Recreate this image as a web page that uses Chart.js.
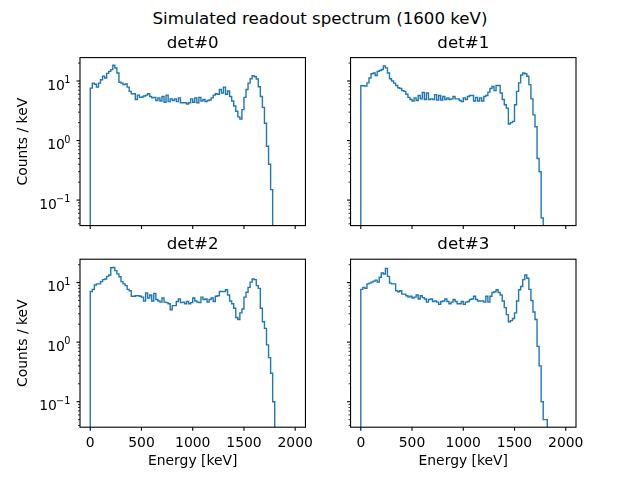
<!DOCTYPE html>
<html>
<head>
<meta charset="utf-8">
<script src="https://cdn.jsdelivr.net/npm/chart.js@4.4.1/dist/chart.umd.min.js"></script>
<style>
  body { margin: 0; background: #fff; }
  #fig { position: relative; width: 640px; height: 480px; }
  #fig canvas { position: absolute; left: 0; top: 0; }
  #suptitle {
    position: absolute; left: 0; top: 8.7px; width: 640px;
    text-align: center; font: 16.67px/20px "DejaVu Sans"; color: #000;
  }
</style>
</head>
<body>
<div id="fig">
  <div id="suptitle">Simulated readout spectrum (1600 keV)</div>
  <canvas id="det0" width="640" height="480"></canvas>
  <canvas id="det1" width="640" height="480"></canvas>
  <canvas id="det2" width="640" height="480"></canvas>
  <canvas id="det3" width="640" height="480"></canvas>
</div>
<script>
// counts / keV per 20 keV bin, starting at 0 keV
const binWidth = 20;

const det0Counts = [
  7.6, 9.2, 8.8, 7.9, 9.2, 10.5, 12.0, 11.2, 13.4, 14.5, 15.5, 18.4, 16.5, 13.6, 9.5, 9.2, 8.7, 8.9, 7.9, 6.7,
  6.1, 6.1, 4.9, 5.8, 5.3, 5.4, 5.6, 5.8, 6.1, 5.5, 5.2, 5.3, 4.7, 5.2, 4.6, 5.5, 4.4, 5.8, 4.5, 5.0,
  4.7, 5.0, 4.5, 5.2, 4.3, 4.3, 4.3, 4.1, 4.3, 5.0, 4.4, 5.2, 4.3, 5.3, 4.6, 4.9, 4.5, 4.7, 4.8, 5.2,
  5.8, 6.1, 6.0, 7.2, 6.3, 7.9, 6.0, 6.8, 5.5, 4.6, 3.8, 3.1, 2.5, 2.3, 3.3, 5.3, 7.2, 9.2, 10.9, 12.3,
  11.8, 10.8, 8.0, 5.5, 3.6, 1.95, 0.8, 0.4, 0.15
];
const det1Counts = [
  8.3, 8.3, 8.2, 9.3, 11.2, 13.2, 13.6, 12.4, 14.5, 15.0, 15.6, 17.9, 16.6, 13.6, 10.9, 10.0, 9.2, 8.4, 7.7, 7.5,
  6.9, 6.7, 6.0, 5.3, 4.9, 4.6, 5.2, 4.7, 5.7, 5.0, 6.4, 4.9, 6.3, 4.9, 5.0, 4.9, 5.9, 4.8, 5.7, 4.8,
  5.5, 4.9, 5.2, 4.9, 5.0, 5.5, 5.0, 5.0, 4.7, 4.5, 5.2, 4.9, 5.5, 5.7, 5.7, 4.6, 5.3, 4.6, 5.2, 4.6,
  5.5, 5.7, 6.5, 7.5, 8.1, 6.9, 8.4, 8.4, 6.3, 4.9, 4.0, 3.5, 1.9, 2.0, 2.1, 4.0, 6.7, 9.3, 12.6, 13.6,
  13.2, 12.0, 8.7, 5.0, 2.7, 1.7, 0.5, 0.3, 0.05
];
const det2Counts = [
  7.1, 7.7, 9.1, 9.5, 9.5, 10.4, 11.2, 11.5, 12.7, 13.4, 17.8, 18.0, 15.9, 14.0, 12.5, 10.4, 9.5, 8.9, 7.7, 7.3,
  5.9, 5.9, 6.0, 6.0, 5.9, 5.7, 4.9, 6.7, 5.5, 6.2, 4.9, 6.6, 5.2, 4.9, 4.7, 5.5, 4.7, 4.6, 4.4, 3.5,
  4.1, 4.1, 4.8, 5.3, 4.6, 4.7, 4.4, 4.8, 4.4, 4.6, 5.5, 4.9, 4.7, 4.6, 5.7, 5.2, 5.3, 4.7, 5.2, 5.5,
  4.8, 5.9, 6.0, 7.1, 7.1, 7.1, 7.6, 6.2, 4.9, 4.4, 3.7, 2.6, 2.4, 3.1, 3.6, 5.7, 6.9, 8.3, 10.2, 11.5,
  11.2, 8.9, 8.0, 3.7, 2.2, 1.7, 0.9, 0.55, 0.3, 0.1
];
const det3Counts = [
  7.7, 8.3, 8.0, 9.5, 9.8, 10.2, 10.6, 11.0, 10.2, 12.3, 14.5, 13.9, 17.3, 12.7, 9.8, 9.5, 9.5, 7.3, 7.0, 7.3,
  6.4, 6.4, 6.0, 5.7, 5.9, 5.5, 5.7, 6.2, 5.3, 6.0, 5.6, 5.3, 4.7, 5.2, 5.3, 4.8, 4.9, 4.7, 4.3, 4.8,
  4.9, 5.3, 4.8, 4.4, 4.7, 5.2, 4.8, 4.4, 4.4, 4.8, 4.3, 4.7, 4.8, 5.2, 5.3, 5.9, 5.2, 4.9, 4.9, 4.9,
  4.7, 5.9, 4.7, 5.9, 6.8, 7.0, 7.6, 6.8, 6.2, 4.9, 3.8, 2.9, 2.2, 2.3, 2.5, 3.1, 4.9, 7.6, 8.6, 11.2,
  13.4, 11.8, 7.7, 5.0, 3.2, 2.4, 0.85, 0.4, 0.1, 0.05, 0.05
];

const detTitles = ['det#0', 'det#1', 'det#2', 'det#3'];
const xTicks = [0, 500, 1000, 1500, 2000];
const xTickLabels = ['0', '500', '1000', '1500', '2000'];
const yMajorTicks = [0.1, 1, 10];
const yTickBase = '10';
const yTickExponents = ['\u22121', '0', '1'];

const xMin = -100, xMax = 2100;
const yMin = 0.0373, yMax = 24.7;
const floorValue = 0.001; // drawn below the axis, like a zero bin
const lineColor = '#1f77b4';
const family = 'DejaVu Sans';

Chart.defaults.font.family = family;
Chart.defaults.color = '#000';

// minor log ticks 2..9 in every decade inside the y range
const yTicks = [];
for (let e = -2; e <= 1; e++) {
  for (let m = 1; m <= 9; m++) {
    const v = m * Math.pow(10, e);
    if (v >= yMin && v <= yMax) yTicks.push({ value: v, major: m === 1 });
  }
}

// matplotlib style box, outward tick marks and 10^n labels
const frame = {
  id: 'frame',
  afterDraw(chart, args, opts) {
    const { ctx, chartArea: a } = chart;
    const { x, y } = chart.scales;
    ctx.save();
    ctx.strokeStyle = '#000';
    y.ticks.forEach(t => {
      const py = y.getPixelForValue(t.value);
      ctx.lineWidth = t.major ? 1.1 : 0.8;
      ctx.beginPath();
      ctx.moveTo(a.left, py);
      ctx.lineTo(a.left - (t.major ? 3.5 : 2), py);
      ctx.stroke();
    });
    x.ticks.forEach(t => {
      const px = x.getPixelForValue(t.value);
      ctx.lineWidth = 1.1;
      ctx.beginPath();
      ctx.moveTo(px, a.bottom);
      ctx.lineTo(px, a.bottom + 3.5);
      ctx.stroke();
    });
    ctx.lineWidth = 1.1;
    ctx.strokeRect(a.left, a.top, a.right - a.left, a.bottom - a.top);

    if (opts.yLabels) {
      ctx.fillStyle = '#000';
      ctx.textAlign = 'right';
      ctx.textBaseline = 'alphabetic';
      yMajorTicks.forEach((v, k) => {
        const py = y.getPixelForValue(v);
        const supX = a.left - 9.7;
        ctx.font = '9.7px "DejaVu Sans"';
        ctx.fillText(yTickExponents[k], supX, py + 2);
        const w = ctx.measureText(yTickExponents[k]).width;
        ctx.font = '13.9px "DejaVu Sans"';
        ctx.fillText(yTickBase, supX - w + 0.8, py + 8.7);
      });
    }
    ctx.restore();
  }
};

function spectrumChart(id, title, counts, box) {
  const n = counts.length;
  const points = [{ x: 0, y: floorValue }];
  counts.forEach((c, i) => points.push({ x: i * binWidth, y: c }));
  points.push({ x: n * binWidth, y: counts[n - 1] });
  points.push({ x: n * binWidth, y: floorValue });

  new Chart(document.getElementById(id), {
    type: 'line',
    data: {
      datasets: [{
        data: points,
        borderColor: lineColor,
        borderWidth: 1.4,
        pointRadius: 0,
        stepped: 'before',
        fill: false,
      }],
    },
    options: {
      responsive: false,
      animation: false,
      events: [],
      layout: {
        padding: {
          left: box.left - box.yw,
          right: 640 - box.right,
          top: box.top - 24.1,
          bottom: 480 - box.bottom - box.xh,
        },
      },
      plugins: {
        legend: { display: false },
        tooltip: { enabled: false },
        frame: { yLabels: box.yLabels },
        title: {
          display: true,
          text: title,
          fullSize: false,
          font: { size: 16.67, weight: 'normal' },
          padding: { top: 0, bottom: 4.1 },
        },
      },
      scales: {
        x: {
          type: 'linear',
          min: xMin,
          max: xMax,
          grid: { display: false, drawTicks: false, tickLength: 0 },
          border: { display: false },
          afterBuildTicks: s => { s.ticks = xTicks.map(v => ({ value: v })); },
          afterFit: s => { s.height = box.xh; },
          ticks: {
            display: box.xLabels,
            autoSkip: false,
            maxRotation: 0,
            padding: 8.3,
            font: { size: 13.9 },
            callback: (v, i) => xTickLabels[i],
          },
          title: {
            display: box.xLabels,
            text: 'Energy [keV]',
            font: { size: 13.9 },
            padding: { top: 0, bottom: 7.7 },
          },
        },
        y: {
          type: 'logarithmic',
          min: yMin,
          max: yMax,
          grid: { display: false, drawTicks: false, tickLength: 0 },
          border: { display: false },
          afterBuildTicks: s => { s.ticks = yTicks.map(t => ({ value: t.value, major: t.major })); },
          afterFit: s => { s.width = box.yw; },
          ticks: { display: false },
          title: {
            display: box.yLabels,
            text: 'Counts / keV',
            font: { size: 13.9 },
            padding: { top: 15.4, bottom: 0 },
          },
        },
      },
    },
    plugins: [frame],
  });
}

spectrumChart('det0', detTitles[0], det0Counts,
  { left: 80, right: 305.45, top: 57.6, bottom: 225.6, yw: 80, xh: 30, xLabels: false, yLabels: true });
spectrumChart('det1', detTitles[1], det1Counts,
  { left: 350.55, right: 576, top: 57.6, bottom: 225.6, yw: 40, xh: 30, xLabels: false, yLabels: false });
spectrumChart('det2', detTitles[2], det2Counts,
  { left: 80, right: 305.45, top: 259.2, bottom: 427.2, yw: 80, xh: 50, xLabels: true, yLabels: true });
spectrumChart('det3', detTitles[3], det3Counts,
  { left: 350.55, right: 576, top: 259.2, bottom: 427.2, yw: 40, xh: 50, xLabels: true, yLabels: false });
</script>
</body>
</html>
